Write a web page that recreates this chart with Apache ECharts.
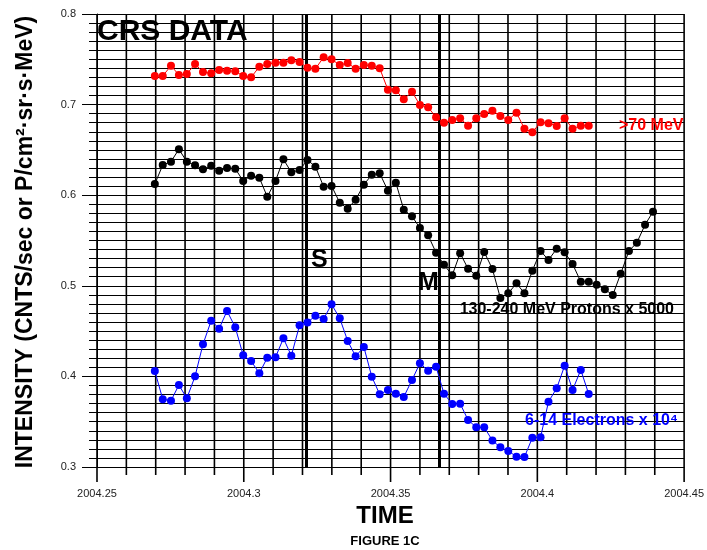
<!DOCTYPE html>
<html>
<head>
<meta charset="utf-8">
<script src="https://cdn.jsdelivr.net/npm/echarts@6/dist/echarts.min.js"></script>
<style>html,body{margin:0;padding:0;background:#fff}#c{width:707px;height:550px}</style>
</head>
<body>
<div id="c"></div>
<script>
// Time stamps (decimal year, daily samples)
var times = [2004.2697,2004.2724,2004.2752,2004.2779,2004.2806,2004.2834,2004.2861,2004.2889,2004.2916,2004.2943,
2004.2971,2004.2998,2004.3025,2004.3053,2004.3080,2004.3108,2004.3135,2004.3162,2004.3190,2004.3217,
2004.3244,2004.3272,2004.3299,2004.3327,2004.3354,2004.3381,2004.3409,2004.3436,2004.3463,2004.3491,
2004.3518,2004.3545,2004.3573,2004.3600,2004.3628,2004.3655,2004.3682,2004.3710,2004.3737,2004.3764,
2004.3792,2004.3819,2004.3847,2004.3874,2004.3901,2004.3929,2004.3956,2004.3983,2004.4011,2004.4038,
2004.4066,2004.4093,2004.4120,2004.4148,2004.4175,2004.4202,2004.4230,2004.4257,2004.4284,2004.4312,
2004.4339,2004.4367,2004.4394];

// >70 MeV
var red = [0.7316,0.7316,0.7429,0.7327,0.7338,0.7448,0.7360,0.7345,0.7382,0.7374,
0.7368,0.7316,0.7301,0.7418,0.7448,0.7462,0.7462,0.7489,0.7470,0.7407,
0.7396,0.7522,0.7500,0.7437,0.7459,0.7396,0.7437,0.7429,0.7401,0.7164,
0.7158,0.7058,0.7142,0.6996,0.6970,0.6860,0.6800,0.6830,0.6849,0.6767,
0.6849,0.6896,0.6933,0.6874,0.6830,0.6911,0.6734,0.6694,0.6805,0.6794,
0.6764,0.6849,0.6734,0.6767,0.6767];

// 130-240 MeV Protons x 5000
var black = [0.6124,0.6333,0.6370,0.6507,0.6370,0.6330,0.6286,0.6326,0.6270,0.6300,
0.6292,0.6157,0.6215,0.6193,0.5983,0.6157,0.6396,0.6253,0.6278,0.6389,
0.6315,0.6094,0.6102,0.5917,0.5851,0.5950,0.6116,0.6226,0.6242,0.6050,
0.6138,0.5840,0.5767,0.5638,0.5557,0.5365,0.5233,0.5116,0.5359,0.5189,
0.5112,0.5373,0.5185,0.4865,0.4917,0.5028,0.4917,0.5167,0.5384,0.5285,
0.5409,0.5370,0.5241,0.5045,0.5045,0.5012,0.4961,0.4898,0.5134,0.5384,
0.5476,0.5674,0.5818];

// 6-14 Electrons x 10^4
var blue = [0.4060,0.3747,0.3732,0.3905,0.3758,0.4001,0.4354,0.4615,0.4527,0.4722,
0.4542,0.4233,0.4170,0.4034,0.4206,0.4211,0.4420,0.4228,0.4564,0.4595,
0.4670,0.4634,0.4796,0.4641,0.4391,0.4222,0.4325,0.3997,0.3802,0.3850,
0.3809,0.3773,0.3960,0.4145,0.4063,0.4107,0.3809,0.3695,0.3699,0.3519,
0.3438,0.3439,0.3292,0.3217,0.3177,0.3114,0.3110,0.3323,0.3328,0.3721,
0.3869,0.4118,0.3850,0.4071,0.3806];

// Event markers
var eventTimes = [2004.3213, 2004.3665];
var eventNames = ['S', 'M'];

// Tick labels and vertical grid positions
var xTicks = ['2004.25','2004.3','2004.35','2004.4','2004.45'];
var xGrid = [2004.25,2004.26,2004.27,2004.28,2004.29,2004.30,2004.31,2004.32,2004.33,2004.34,
2004.35,2004.36,2004.37,2004.38,2004.39,2004.40,2004.41,2004.42,2004.43,2004.44,2004.45];
var yTicks = ['0.3','0.4','0.5','0.6','0.7','0.8'];

var YEAR0 = 2004;
var X_MIN = 2004.25, X_STEP = 0.05;
var Y_MIN = 0.3, Y_MAX = 0.8;

function pairs(vals) {
  return vals.map(function (v, i) { return [times[i] - YEAR0, v]; });
}

var FONT = "'Liberation Sans', Arial, Helvetica, sans-serif";
var chart = echarts.init(document.getElementById('c'), null, {renderer: 'canvas'});

function lineSeries(name, vals, color) {
  return {
    name: name, type: 'line', data: pairs(vals),
    symbol: 'circle', symbolSize: 8,
    lineStyle: {color: color, width: 1},
    itemStyle: {color: color},
    animation: false, z: 5
  };
}

var blackSeries = lineSeries('130-240 MeV Protons x 5000', black, '#000000');
blackSeries.markLine = {
  silent: true, symbol: ['none', 'none'], animation: false,
  label: {show: false},
  lineStyle: {color: '#000', width: 3, type: 'solid'},
  data: eventTimes.map(function (t) {
    return [{coord: [t - YEAR0, Y_MIN]}, {coord: [t - YEAR0, Y_MAX]}];
  })
};

// vertical grid lines + ticks below the time axis, placed through the x scale
var gridSeries = {
  type: 'custom', silent: true, clip: false, z: 1, animation: false,
  data: xGrid.map(function (v) {
    var major = xTicks.indexOf(String(v)) >= 0 ? 1 : 0;
    return [v - YEAR0, Y_MIN, major];
  }),
  encode: {x: 0, y: 1},
  renderItem: function (params, api) {
    var xv = api.value(0);
    var top = api.coord([xv, Y_MAX]);
    var bot = api.coord([xv, Y_MIN]);
    var len = api.value(2) ? 15 : 8;
    return {
      type: 'line',
      shape: {x1: top[0], y1: top[1], x2: bot[0], y2: bot[1] + len},
      style: {stroke: '#000', lineWidth: 1.6}
    };
  }
};

chart.setOption({
  animation: false,
  backgroundColor: '#fff',
  grid: {left: 97, right: 21, top: 14, bottom: 83},
  xAxis: {
    type: 'value', min: 0.25, max: 0.45, interval: X_STEP,
    axisLine: {show: true, lineStyle: {color: '#000', width: 1}},
    axisTick: {show: false},
    minorTick: {show: false},
    splitLine: {show: false},
    minorSplitLine: {show: false},
    axisLabel: {
      margin: 21, fontSize: 11, color: '#222', fontFamily: FONT,
      formatter: function (v) {
        var i = Math.round((v + YEAR0 - X_MIN) / X_STEP);
        return xTicks[i] || '';
      }
    }
  },
  yAxis: {
    type: 'value', min: Y_MIN, max: Y_MAX, interval: 0.1,
    axisLine: {show: true, lineStyle: {color: '#000', width: 1}},
    axisTick: {show: true, length: 15, lineStyle: {color: '#000', width: 1}},
    minorTick: {show: true, splitNumber: 10, length: 8, lineStyle: {color: '#000', width: 1}},
    splitLine: {show: true, lineStyle: {color: '#000', width: 1, type: 'solid'}},
    minorSplitLine: {show: true, lineStyle: {color: '#000', width: 1, type: 'solid'}},
    axisLabel: {
      margin: 21, fontSize: 11, color: '#222', fontFamily: FONT,
      formatter: function (v) {
        var i = Math.round((v - 0.3) / 0.1);
        return yTicks[i] || '';
      }
    }
  },
  series: [
    gridSeries,
    lineSeries('>70 MeV', red, '#ff0000'),
    blackSeries,
    lineSeries('6-14 Electrons x 10^4', blue, '#0000ff')
  ],
  graphic: [
    {type: 'text', left: 97, top: 17, z: 10,
     style: {text: 'CRS DATA', fontSize: 30, fontWeight: 'bold', fontFamily: FONT, fill: '#000'}},
    {type: 'text', x: 311, y: 260, z: 10,
     style: {text: eventNames[0], fontSize: 25, fontWeight: 'bold', fontFamily: FONT, fill: '#000', verticalAlign: 'middle'}},
    {type: 'text', x: 418, y: 283, z: 10,
     style: {text: eventNames[1], fontSize: 25, fontWeight: 'bold', fontFamily: FONT, fill: '#000', verticalAlign: 'middle'}},
    {type: 'text', x: 619, y: 126, z: 10,
     style: {text: '>70 MeV', fontSize: 16, fontWeight: 'bold', fontFamily: FONT, fill: '#ff0000', verticalAlign: 'middle'}},
    {type: 'text', x: 674, y: 310, z: 10,
     style: {text: '130-240 MeV Protons x 5000', fontSize: 16, fontWeight: 'bold', fontFamily: FONT, fill: '#000', align: 'right', verticalAlign: 'middle'}},
    {type: 'text', x: 525, y: 421, z: 10,
     style: {text: '6-14 Electrons x 10\u2074', fontSize: 16, fontWeight: 'bold', fontFamily: FONT, fill: '#0000ff', verticalAlign: 'middle'}},
    {type: 'text', x: 26, y: 242, rotation: Math.PI / 2, z: 10,
     style: {text: 'INTENSITY (CNTS/sec or P/cm\u00b2\u00b7sr\u00b7s\u00b7MeV)', fontSize: 23, fontWeight: 'bold', fontFamily: FONT, fill: '#000', align: 'center', verticalAlign: 'middle'}},
    {type: 'text', x: 385, y: 516, z: 10,
     style: {text: 'TIME', fontSize: 24, fontWeight: 'bold', fontFamily: FONT, fill: '#000', align: 'center', verticalAlign: 'middle'}},
    {type: 'text', x: 385, y: 541, z: 10,
     style: {text: 'FIGURE 1C', fontSize: 13, fontWeight: 'bold', fontFamily: FONT, fill: '#000', align: 'center', verticalAlign: 'middle'}}
  ]
});
</script>
</body>
</html>
